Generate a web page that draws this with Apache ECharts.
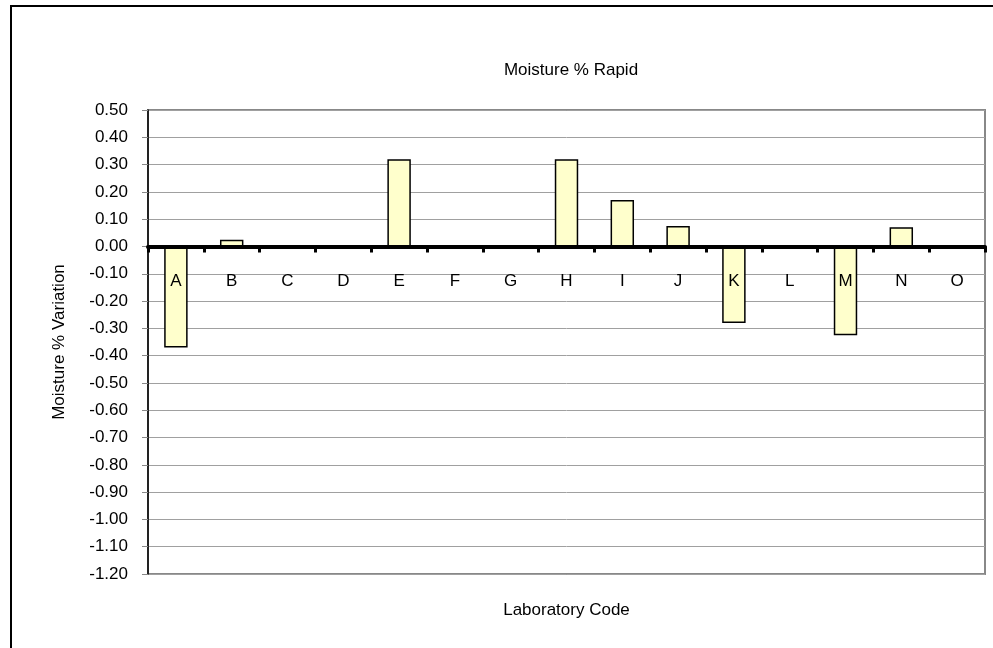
<!DOCTYPE html>
<html>
<head>
<meta charset="utf-8">
<script src="https://cdn.jsdelivr.net/npm/echarts@6/dist/echarts.min.js"></script>
<style>
    html, body { margin: 0; padding: 0; background: #fff; }
    #chart { width: 993px; height: 648px; }
</style>
</head>
<body>
<div id="chart"></div>
<script>
    // lab codes and their variation
    const labCodes = ['A', 'B', 'C', 'D', 'E', 'F', 'G', 'H', 'I', 'J', 'K', 'L', 'M', 'N', 'O']
    const variation = [-0.37, 0.025, null, null, 0.32, null, null, 0.32, 0.17, 0.075, -0.28, null, -0.325, 0.07, null]
    const yMin = -1.2
    const yMax = 0.5
    const yStep = 0.1

    const font = 'Arial, "Liberation Sans", sans-serif'
    const chart = echarts.init(document.getElementById('chart'))
    chart.setOption({
        animation: false,
        title: {
            text: 'Moisture % Rapid',
            left: 566,
            textAlign: 'center',
            top: 57,
            textStyle: {fontFamily: font, fontSize: 17, fontWeight: 'normal', color: '#000'}
        },
        graphic: [{
            type: 'rect',
            shape: {x: 11, y: 6, width: 1000, height: 700},
            style: {fill: 'none', stroke: '#000', lineWidth: 2},
            z: -1
        }],
        grid: {
            left: 148, top: 110, right: 8, bottom: 74,
            containLabel: false,
            outerBoundsMode: 'none',
            show: true, borderColor: '#888', borderWidth: 2
        },
        xAxis: {
            type: 'category',
            data: labCodes,
            z: 5,
            name: 'Laboratory Code',
            nameLocation: 'middle',
            nameGap: 28,
            nameTextStyle: {fontFamily: font, fontSize: 17, color: '#000'},
            axisLine: {onZero: true, lineStyle: {color: '#000', width: 4}},
            axisTick: {show: true, length: 6, lineStyle: {color: '#000', width: 3}},
            // labels sit just under the zero line, as in the original
            axisLabel: {margin: 27 - (574 - 246), fontFamily: font, fontSize: 17, color: '#000', hideOverlap: false},
            splitLine: {show: false}
        },
        yAxis: {
            type: 'value',
            min: yMin, max: yMax, interval: yStep,
            name: 'Moisture % Variation',
            nameLocation: 'middle',
            nameRotate: 90,
            nameGap: 80,
            nameTextStyle: {fontFamily: font, fontSize: 17, color: '#000'},
            axisLine: {show: true, onZero: false, lineStyle: {color: '#000', width: 1.5}},
            axisTick: {show: true, length: 6, lineStyle: {color: '#888'}},
            axisLabel: {
                margin: 20, fontFamily: font, fontSize: 17, color: '#000',
                formatter: v => v.toFixed(2)
            },
            splitLine: {lineStyle: {color: '#a0a0a0', width: 1}}
        },
        series: [{
            type: 'bar',
            data: variation,
            barWidth: '42%',
            itemStyle: {color: '#ffffcc', borderColor: '#000', borderWidth: 1.5},
            z: 1
        }]
    })
</script>
</body>
</html>
